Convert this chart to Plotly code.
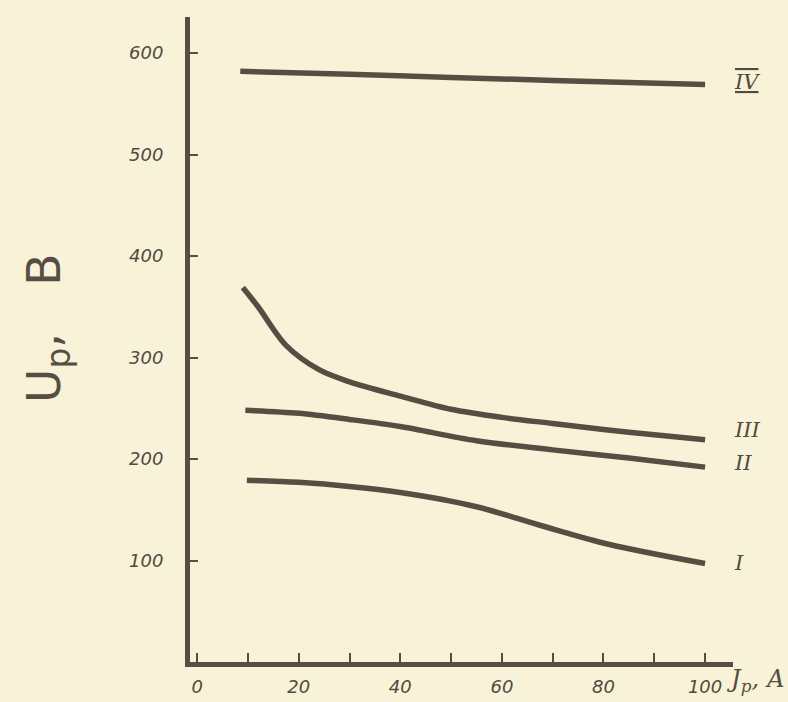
import plotly.graph_objects as go

# Data (I_p in A, U_p in V)
x_IV = [8.5, 30, 50, 70, 100]
y_IV = [582, 579, 576, 573, 569]

x_III = [9, 12, 17.5, 24, 30, 40, 50, 60, 70, 80, 90, 100]
y_III = [369, 350, 312, 288, 276, 262, 249, 241, 235, 229, 224, 219]

x_II = [9.5, 20, 30, 40, 55, 70, 85, 100]
y_II = [248, 245, 239, 232, 218, 209, 201, 192]

x_I = [9.8, 20, 30, 40, 55, 68, 81, 100]
y_I = [179, 177, 173, 167, 153, 134, 116, 97]

curve_names = ["IV", "III", "II", "I"]
label_y = [571, 229, 196, 98]

x_ticks = [0, 20, 40, 60, 80, 100]
x_minor_ticks = [10, 30, 50, 70, 90]
y_ticks = [100, 200, 300, 400, 500, 600]

ink = "#574e43"
label_ink = "#524a3e"
paper = "#f8f2d9"

fig = go.Figure()
for xs, ys in [(x_IV, y_IV), (x_III, y_III), (x_II, y_II), (x_I, y_I)]:
    fig.add_trace(go.Scatter(x=xs, y=ys, mode="lines",
                             line=dict(color=ink, width=5.5, shape="spline", smoothing=0.9),
                             showlegend=False, hoverinfo="skip"))

for name, ly in zip(curve_names, label_y):
    txt = name if name != "IV" else '<span style="text-decoration:underline overline">IV</span>'
    fig.add_annotation(x=(732 - 190) / 543, y=ly, xref="paper", yref="y", text=txt,
                       showarrow=False,
                       font=dict(family="DejaVu Serif", size=21, color=label_ink, style="italic"),
                       xanchor="left", yanchor="middle")

fig.update_layout(
    width=788, height=702,
    margin=dict(l=190, r=55, t=17, b=40, autoexpand=False),
    paper_bgcolor=paper, plot_bgcolor=paper,
    xaxis=dict(range=[-1.4, 105.5], showgrid=False, zeroline=False, automargin=False,
               showline=True, linecolor=ink, linewidth=5,
               tickvals=x_ticks,
               ticks="inside", ticklen=9, tickwidth=2, tickcolor=ink,
               minor=dict(tickvals=x_minor_ticks, ticks="inside", ticklen=9,
                          tickwidth=2, tickcolor=ink, showgrid=False),
               ticklabelstandoff=4,
               tickfont=dict(family="DejaVu Sans", size=18, color=label_ink, style="italic")),
    yaxis=dict(range=[0, 635.5], showgrid=False, zeroline=False, automargin=False,
               showline=True, linecolor=ink, linewidth=5,
               tickvals=y_ticks,
               ticks="inside", ticklen=8, tickwidth=2, tickcolor=ink,
               ticklabelstandoff=18,
               tickfont=dict(family="DejaVu Sans", size=18, color=label_ink, style="italic")),
)

# Axis titles
fig.add_annotation(x=(787 - 190) / 543, y=(662 - 680) / 645, xref="paper", yref="paper",
                   text="J<sub>р</sub>, А", showarrow=False,
                   font=dict(family="DejaVu Serif", size=24, color=ink, style="italic"),
                   xanchor="right", yanchor="middle")
fig.add_annotation(x=(47 - 190) / 543, y=(662 - 329) / 645, xref="paper", yref="paper",
                   text="U<sub>р</sub>,\u2003В", showarrow=False, textangle=-90,
                   font=dict(family="DejaVu Sans", size=47, color=ink),
                   xanchor="center", yanchor="middle")

fig.write_html("out.html", config={"displayModeBar": False},
               post_script="document.body.style.margin='0';"
                           "document.body.style.background='#f8f2d9';")
